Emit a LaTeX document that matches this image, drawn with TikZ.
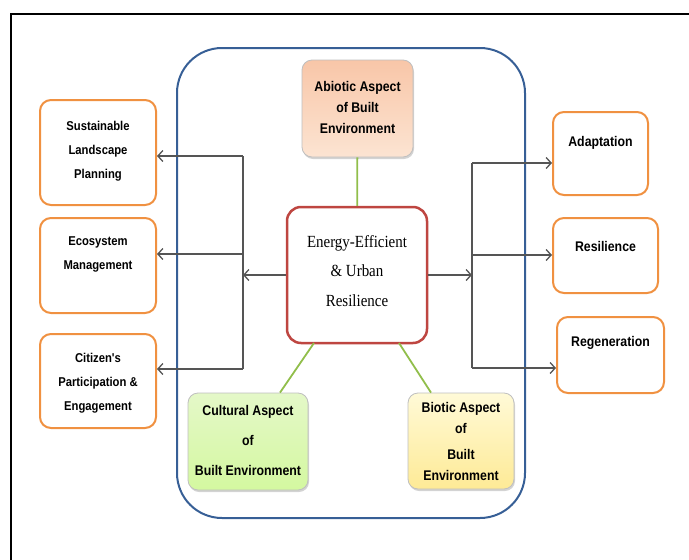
\documentclass[tikz,border=0pt]{standalone}
\usepackage{fontspec}
\newfontfamily\boxfont[FakeStretch=0.88]{Liberation Sans}
\newfontfamily\hubfont[FakeStretch=0.88]{Liberation Serif}
\usetikzlibrary{arrows.meta, shadows}
\definecolor{frameblue}{RGB}{55,95,150}
\definecolor{hubred}{RGB}{190,70,65}
\definecolor{outorange}{RGB}{240,145,65}
\definecolor{linkgreen}{RGB}{145,190,75}
\definecolor{arrgray}{RGB}{85,85,85}
\tikzstyle{outbox} = [rectangle, rounded corners=11pt, draw=outorange, line width=2pt, fill=white]
\tikzstyle{aspect} = [rectangle, rounded corners=10pt, draw=black!25, line width=0.8pt, drop shadow={opacity=0.35, shadow xshift=1pt, shadow yshift=-2pt}]
\tikzstyle{hub} = [rectangle, rounded corners=14pt, draw=hubred, line width=2.5pt, fill=white]
\tikzstyle{sidetext} = [align=center, font=\boxfont\bfseries\fontsize{12.8}{24}\selectfont]
\tikzstyle{aspecttext} = [align=center, font=\boxfont\bfseries\fontsize{14}{21}\selectfont]
\tikzstyle{arrow} = [line width=1.3pt, draw=arrgray, -{Straight Barb[length=5pt, width=11pt]}]
\tikzstyle{line} = [line width=1.3pt, draw=arrgray]
\tikzstyle{link} = [line width=1.8pt, draw=linkgreen]

\begin{document}
\begin{tikzpicture}[x=1pt, y=-1pt]
\useasboundingbox (0,0) rectangle (689,560);
\draw [line width=1.5pt] (11,560) -- (11,14) -- (689,14);
\draw [frameblue, line width=2pt, rounded corners=45pt] (177,48) rectangle (525,518);

% middle
\node (hub) [hub, minimum width=140pt, minimum height=136pt] at (357,275) {};
\node (hubtxt) [align=center, font=\hubfont\fontsize{17}{29.5}\selectfont] at (357,271) {Energy-Efficient\\\& Urban\\Resilience};
\node (abio) [aspect, top color={rgb,255:red,248;green,198;blue,168}, bottom color={rgb,255:red,252;green,228;blue,210}, minimum width=111pt, minimum height=97pt] at (357.5,108.5) {};
\node (abiotxt) [aspecttext] at (357.5,107) {Abiotic Aspect\\of Built\\Environment};
\node (cult) [aspect, top color={rgb,255:red,228;green,248;blue,200}, bottom color={rgb,255:red,212;green,248;blue,160}, minimum width=120pt, minimum height=97pt] at (248,441.5) {};
\node (culttxt) [aspecttext, font=\boxfont\bfseries\fontsize{14}{30}\selectfont] at (248,440) {Cultural Aspect\\of\\Built Environment};
\node (bio) [aspect, top color={rgb,255:red,255;green,250;blue,215}, bottom color={rgb,255:red,254;green,234;blue,150}, minimum width=106pt, minimum height=96pt] at (461,441) {};
\node (biotxt) [aspecttext] at (461,441) {Biotic Aspect\\of\\[5pt]Built\\Environment};

% left
\node (sus) [outbox, minimum width=116pt, minimum height=105pt] at (98,152.5) {};
\node (sustxt) [sidetext] at (98,151) {Sustainable\\Landscape\\Planning};
\node (eco) [outbox, minimum width=116pt, minimum height=95pt] at (98,265.5) {};
\node (ecotxt) [sidetext] at (98,254) {Ecosystem\\Management};
\node (cit) [outbox, minimum width=116pt, minimum height=94pt] at (98,381) {};
\node (cittxt) [sidetext] at (98,383) {Citizen's\\Participation \&\\Engagement};

% right
\node (ada) [outbox, minimum width=95pt, minimum height=83pt] at (600.5,153.5) {};
\node (adatxt) [aspecttext] at (600.5,143) {Adaptation};
\node (res) [outbox, minimum width=105pt, minimum height=75pt] at (605.5,255.5) {};
\node (restxt) [aspecttext] at (605.5,246) {Resilience};
\node (reg) [outbox, minimum width=107pt, minimum height=76pt] at (610.5,355) {};
\node (regtxt) [aspecttext] at (610.5,343) {Regeneration};

\coordinate (lt) at (243,156);
\coordinate (lm) at (243,254);
\coordinate (lb) at (243,369);
\coordinate (rt) at (472,163);
\coordinate (rm) at (472,255);
\coordinate (rb) at (472,368);

\draw [link](abio) -- (hub);
\draw [link](314,343) -- (cult.north -| 280,0);
\draw [link](399,343) -- (bio.north -| 431,0);

\draw [line](lt) -- (lb);
\draw [arrow](hub.west) -- (hub.west -| lt);
\draw [arrow](lt) -- (lt -| sus.east);
\draw [arrow](lm) -- (lm -| eco.east);
\draw [arrow](lb) -- (lb -| cit.east);

\draw [line](rt) -- (rb);
\draw [arrow](hub.east) -- (hub.east -| rt);
\draw [arrow](rt) -- (rt -| ada.west);
\draw [arrow](rm) -- (rm -| res.west);
\draw [arrow](rb) -- (rb -| reg.west);
\end{tikzpicture}
\end{document}
